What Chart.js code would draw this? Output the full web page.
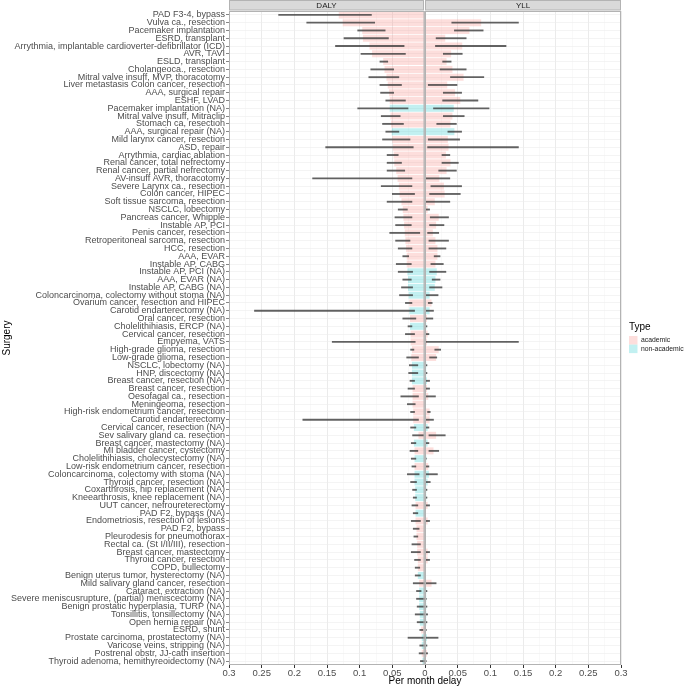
<!DOCTYPE html>
<html>
<head>
<meta charset="utf-8">
<script src="https://cdn.jsdelivr.net/npm/chart.js@4.4.1/dist/chart.umd.min.js"></script>
<style>
  html, body { margin: 0; padding: 0; background: #fff; }
  canvas { display: block; }
</style>
</head>
<body>
<canvas id="delayChart" width="685" height="687"></canvas>
<script>
// surgeries, top to bottom
const surgeries = [
  "PAD F3-4, bypass", "Vulva ca., resection", "Pacemaker implantation", "ESRD, transplant",
  "Arrythmia, implantable cardioverter-defibrillator (ICD)", "AVR, TAVI", "ESLD, transplant",
  "Cholangeoca., resection", "Mitral valve insuff, MVP, thoracotomy", "Liver metastasis Colon cancer, resection",
  "AAA, surgical repair", "ESHF, LVAD", "Pacemaker implantation (NA)", "Mitral valve insuff, Mitraclip",
  "Stomach ca, resection", "AAA, surgical repair (NA)", "Mild larynx cancer, resection", "ASD, repair",
  "Arrythmia, cardiac ablation", "Renal cancer, total nefrectomy", "Renal cancer, partial nefrectomy",
  "AV-insuff AVR, thoracotomy", "Severe Larynx ca., resection", "Colon cancer, HIPEC",
  "Soft tissue sarcoma, resection", "NSCLC, lobectomy", "Pancreas cancer, Whipple", "Instable AP, PCI",
  "Penis cancer, resection", "Retroperitoneal sarcoma, resection", "HCC, resection", "AAA, EVAR",
  "Instable AP, CABG", "Instable AP, PCI (NA)", "AAA, EVAR (NA)", "Instable AP, CABG (NA)",
  "Coloncarcinoma, colectomy without stoma (NA)", "Ovarium cancer, resection and HIPEC",
  "Carotid endarterectomy (NA)", "Oral cancer, resection", "Cholelithihiasis, ERCP (NA)",
  "Cervical cancer, resection", "Empyema, VATS", "High-grade glioma, resection", "Low-grade glioma, resection",
  "NSCLC, lobectomy (NA)", "HNP, discectomy (NA)", "Breast cancer, resection (NA)", "Breast cancer, resection",
  "Oesofagal ca., resection", "Meningeoma, resection", "High-risk endometrium cancer, resection",
  "Carotid endarterectomy", "Cervical cancer, resection (NA)", "Sev salivary gland ca. resection",
  "Breast cancer, mastectomy (NA)", "MI bladder cancer, cystectomy", "Cholelithihiasis, cholecystectomy (NA)",
  "Low-risk endometrium cancer, resection", "Coloncarcinoma, colectomy with stoma (NA)",
  "Thyroid cancer, resection (NA)", "Coxarthrosis, hip replacement (NA)", "Kneearthrosis, knee replacement (NA)",
  "UUT cancer, nefroureterectomy", "PAD F2, bypass (NA)", "Endometriosis, resection of lesions",
  "PAD F2, bypass", "Pleurodesis for pneumothorax", "Rectal ca. (St I/II/III), resection",
  "Breast cancer, mastectomy", "Thyroid cancer, resection", "COPD, bullectomy",
  "Benign uterus tumor, hysterectomy (NA)", "Mild salivary gland cancer, resection", "Cataract, extraction (NA)",
  "Severe meniscusrupture, (partial) meniscectomy (NA)", "Benign prostatic hyperplasia, TURP (NA)",
  "Tonsillitis, tonsillectomy (NA)", "Open hernia repair (NA)", "ESRD, shunt",
  "Prostate carcinoma, prostatectomy (NA)", "Varicose veins, stripping (NA)",
  "Postrenal obstr, JJ-cath insertion", "Thyroid adenoma, hemithyreoidectomy (NA)"
];

// DALY per month delay (estimate, lower, upper)
const dalyEst = [
  0.132, 0.126, 0.096, 0.095, 0.085, 0.081, 0.064, 0.062, 0.059, 0.057,
  0.055, 0.054, 0.054, 0.053, 0.052, 0.051, 0.050, 0.049, 0.048, 0.047,
  0.044, 0.042, 0.040, 0.039, 0.036, 0.034, 0.033, 0.032, 0.031, 0.030,
  0.029, 0.028, 0.028, 0.027, 0.026, 0.026, 0.025, 0.024, 0.024, 0.023,
  0.023, 0.022, 0.022, 0.020, 0.021, 0.020, 0.020, 0.020, 0.019, 0.019,
  0.019, 0.018, 0.018, 0.017, 0.010, 0.017, 0.016, 0.016, 0.016, 0.016,
  0.016, 0.015, 0.015, 0.0145, 0.0145, 0.0145, 0.013, 0.013, 0.012, 0.012,
  0.011, 0.011, 0.011, 0.009, 0.009, 0.009, 0.009, 0.008, 0.008, 0.006,
  0.005, 0.005, 0.005, 0.004
];
const dalyLow = [
  0.082, 0.077, 0.061, 0.056, 0.032, 0.030, 0.057, 0.048, 0.040, 0.036,
  0.048, 0.030, 0.026, 0.038, 0.033, 0.040, 0.023, 0.018, 0.041, 0.036,
  0.031, 0.020, 0.020, 0.016, 0.020, 0.027, 0.020, 0.021, 0.008, 0.023,
  0.020, 0.025, 0.021, 0.019, 0.021, 0.019, 0.019, 0.020, 0.016, 0.014,
  0.020, 0.016, 0.015, 0.017, 0.010, 0.011, 0.011, 0.016, 0.016, 0.010,
  0.015, 0.016, 0.010, 0.014, 0.002, 0.014, 0.011, 0.014, 0.014, 0.009,
  0.013, 0.013, 0.013, 0.011, 0.011, 0.007, 0.009, 0.011, 0.007, 0.007,
  0.007, 0.008, 0.007, 0.001, 0.006, 0.000, 0.001, 0.000, 0.000, 0.003,
  0.000, 0.000, 0.000, 0.000
];
const dalyHigh = [
  0.224, 0.181, 0.103, 0.124, 0.137, 0.098, 0.069, 0.083, 0.086, 0.069,
  0.068, 0.060, 0.103, 0.067, 0.065, 0.060, 0.065, 0.152, 0.058, 0.058,
  0.058, 0.172, 0.067, 0.050, 0.058, 0.041, 0.046, 0.045, 0.054, 0.045,
  0.041, 0.034, 0.044, 0.041, 0.034, 0.036, 0.039, 0.030, 0.261, 0.034,
  0.026, 0.030, 0.142, 0.022, 0.028, 0.024, 0.025, 0.023, 0.026, 0.037,
  0.027, 0.022, 0.187, 0.022, 0.019, 0.021, 0.023, 0.021, 0.020, 0.027,
  0.022, 0.019, 0.018, 0.020, 0.018, 0.021, 0.018, 0.017, 0.020, 0.021,
  0.016, 0.015, 0.015, 0.018, 0.013, 0.013, 0.012, 0.015, 0.012, 0.008,
  0.026, 0.008, 0.009, 0.007
];

// YLL per month delay (estimate, lower, upper)
const yllEst = [
  0.000, 0.086, 0.068, 0.031, 0.057, 0.040, 0.033, 0.042, 0.059, 0.034,
  0.046, 0.054, 0.044, 0.042, 0.039, 0.045, 0.035, 0.036, 0.032, 0.039,
  0.033, 0.022, 0.029, 0.030, 0.015, 0.004, 0.021, 0.017, 0.012, 0.016,
  0.019, 0.019, 0.016, 0.018, 0.016, 0.015, 0.007, 0.010, 0.007, 0.003,
  0.002, 0.004, 0.003, 0.021, 0.017, 0.002, 0.002, 0.003, 0.003, 0.005,
  0.001, 0.007, 0.007, 0.004, 0.017, 0.004, 0.013, 0.002, 0.005, 0.006,
  0.004, 0.002, 0.002, 0.004, 0.001, 0.004, 0.001, 0.001, 0.001, 0.004,
  0.004, 0.001, 0.001, 0.010, 0.002, 0.002, 0.002, 0.002, 0.002, 0.001,
  0.003, 0.002, 0.003, 0.001
];
const yllLow = [
  null, 0.041, 0.045, 0.017, 0.016, 0.028, 0.027, 0.023, 0.039, 0.005,
  0.028, 0.027, 0.013, 0.028, 0.018, 0.035, 0.005, 0.004, 0.026, 0.026,
  0.021, 0.000, 0.009, 0.007, 0.000, 0.000, 0.008, 0.007, 0.004, 0.006,
  0.006, 0.014, 0.009, 0.007, 0.011, 0.007, 0.002, 0.005, 0.000, 0.000,
  0.001, 0.001, 0.000, 0.015, 0.007, 0.000, 0.000, 0.000, 0.001, 0.000,
  0.000, 0.004, 0.000, 0.001, 0.006, 0.002, 0.006, 0.001, 0.002, 0.000,
  0.001, 0.001, 0.001, 0.000, 0.000, 0.000, 0.000, 0.000, 0.000, 0.000,
  0.000, 0.000, 0.000, 0.002, 0.000, 0.000, 0.000, 0.000, 0.000, 0.000,
  0.000, 0.000, 0.000, 0.000
];
const yllHigh = [
  null, 0.143, 0.089, 0.063, 0.124, 0.057, 0.040, 0.063, 0.090, 0.049,
  0.056, 0.081, 0.098, 0.060, 0.048, 0.056, 0.053, 0.143, 0.038, 0.051,
  0.048, 0.038, 0.056, 0.054, 0.038, 0.007, 0.036, 0.029, 0.021, 0.036,
  0.032, 0.023, 0.028, 0.032, 0.023, 0.026, 0.020, 0.011, 0.013, 0.012,
  0.003, 0.006, 0.143, 0.024, 0.018, 0.003, 0.003, 0.007, 0.007, 0.016,
  0.001, 0.008, 0.013, 0.006, 0.031, 0.006, 0.021, 0.002, 0.006, 0.019,
  0.008, 0.003, 0.003, 0.007, 0.001, 0.007, 0.001, 0.001, 0.001, 0.007,
  0.007, 0.001, 0.001, 0.017, 0.003, 0.002, 0.003, 0.004, 0.003, 0.002,
  0.020, 0.003, 0.004, 0.002
];

const typeNames = ["academic", "non-academic"];
const types = surgeries.map((s) => (s.includes("(NA)") ? "non-academic" : "academic"));
const typeColors = {
  academic: "rgba(248,118,109,0.24)",
  "non-academic": "rgba(0,191,196,0.24)",
};
const barColors = types.map((t) => typeColors[t]);
const errColor = "rgba(60,60,60,0.8)";

const FONT = "'Liberation Sans', Arial, Helvetica, sans-serif";
Chart.defaults.font.family = FONT;

const isMajor = (v) => Math.round(v / 0.025) % 2 === 0;

// strips, panel borders, zero line and the Type legend
const facetDecor = {
  id: "facetDecor",
  afterDatasetsDraw(chart) {
    const {
      ctx,
      chartArea: { left, right, top, bottom },
      scales: { x },
    } = chart;
    const mid = x.getPixelForValue(0);
    ctx.save();

    ctx.strokeStyle = "#8C8C8C";
    ctx.lineWidth = 1;
    ctx.beginPath();
    ctx.moveTo(mid, top);
    ctx.lineTo(mid, bottom);
    ctx.stroke();

    ctx.strokeStyle = "#B3B3B3";
    ctx.strokeRect(left + 0.5, top + 0.5, mid - left - 1.5, bottom - top - 1);
    ctx.strokeRect(mid + 0.5, top + 0.5, right - mid - 1, bottom - top - 1);

    // strip headers
    const strips = [
      { text: "DALY", x0: left, x1: mid - 1 },
      { text: "YLL", x0: mid, x1: right },
    ];
    ctx.font = "8px " + FONT;
    ctx.textAlign = "center";
    ctx.textBaseline = "middle";
    strips.forEach((s) => {
      ctx.fillStyle = "#D9D9D9";
      ctx.fillRect(s.x0, 0, s.x1 - s.x0, top - 1);
      ctx.strokeStyle = "#B3B3B3";
      ctx.strokeRect(s.x0 + 0.5, 0.5, s.x1 - s.x0 - 1, top - 1.5);
      ctx.fillStyle = "#1A1A1A";
      ctx.fillText(s.text, (s.x0 + s.x1) / 2, top / 2);
    });

    // legend
    ctx.textAlign = "left";
    ctx.fillStyle = "#000";
    ctx.font = "10px " + FONT;
    ctx.fillText("Type", 629, 327);
    ctx.font = "6.8px " + FONT;
    typeNames.forEach((t, i) => {
      ctx.fillStyle = typeColors[t];
      ctx.fillRect(629, 336 + i * 8.6, 8.5, 8.5);
      ctx.fillStyle = "#1A1A1A";
      ctx.fillText(t, 641, 340.5 + i * 8.6);
    });
    ctx.restore();
  },
};

const ctx = document.getElementById("delayChart");

new Chart(ctx, {
  type: "bar",
  data: {
    labels: surgeries,
    datasets: [
      {
        label: "DALY interval",
        data: dalyLow.map((lo, i) => (lo == null ? null : [-dalyHigh[i], -lo])),
        backgroundColor: errColor,
        barThickness: 1.2,
        grouped: false,
      },
      {
        label: "YLL interval",
        data: yllLow.map((lo, i) => (lo == null ? null : [lo, yllHigh[i]])),
        backgroundColor: errColor,
        barThickness: 1.2,
        grouped: false,
      },
      {
        label: "DALY",
        data: dalyEst.map((v) => -v),
        backgroundColor: barColors,
        barPercentage: 0.9,
        categoryPercentage: 1,
        grouped: false,
      },
      {
        label: "YLL",
        data: yllEst,
        backgroundColor: barColors,
        barPercentage: 0.9,
        categoryPercentage: 1,
        grouped: false,
      },
    ],
  },
  options: {
    indexAxis: "y",
    responsive: false,
    animation: false,
    layout: {
      padding: { top: 11, right: 64, bottom: 0, left: 0 },
    },
    scales: {
      x: {
        type: "linear",
        min: -0.3,
        max: 0.3,
        afterFit: (s) => {
          s.height = 22;
        },
        border: { display: false },
        grid: {
          color: (c) => (isMajor(c.tick.value) ? "#EBEBEB" : "#F5F5F5"),
          lineWidth: (c) => (isMajor(c.tick.value) ? 1 : 0.6),
          tickLength: 3,
          tickColor: (c) => (isMajor(c.tick.value) ? "#333333" : "rgba(0,0,0,0)"),
        },
        ticks: {
          stepSize: 0.025,
          autoSkip: false,
          maxRotation: 0,
          padding: 0,
          color: "#4D4D4D",
          font: { size: 9.5 },
          callback: function (val) {
            if (!isMajor(val)) return "";
            return String(+Math.abs(val).toFixed(3));
          },
        },
        title: {
          display: true,
          text: "Per month delay",
          color: "#000",
          font: { size: 10 },
          padding: 0,
        },
      },
      y: {
        type: "category",
        offset: true,
        afterFit: (s) => {
          s.width = 229;
        },
        border: { display: false },
        grid: {
          offset: false,
          color: "#EDEDED",
          lineWidth: 0.6,
          tickLength: 3,
          tickColor: "#333333",
        },
        ticks: {
          autoSkip: false,
          padding: 1,
          color: "#4D4D4D",
          font: { size: 9 },
        },
        title: {
          display: true,
          text: "Surgery",
          color: "#000",
          font: { size: 10 },
          padding: 1,
        },
      },
    },
    plugins: {
      legend: { display: false },
      tooltip: { enabled: false },
    },
  },
  plugins: [facetDecor],
});
</script>
</body>
</html>
